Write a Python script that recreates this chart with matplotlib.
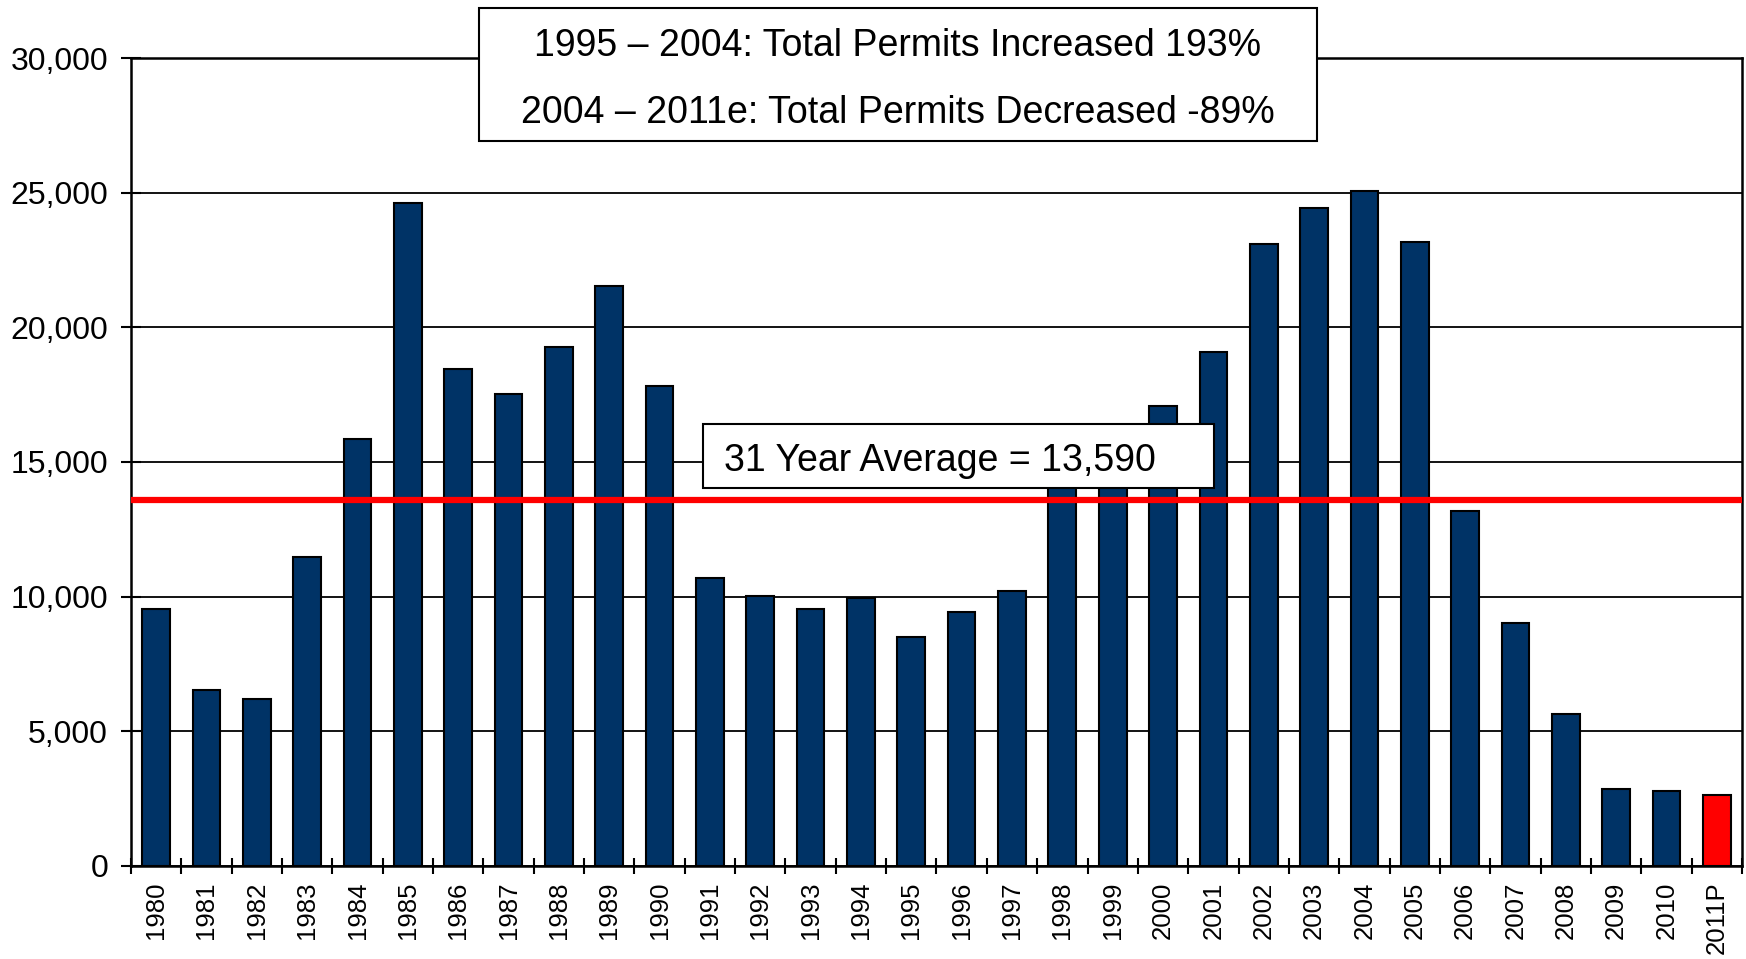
import matplotlib.pyplot as plt
from matplotlib.patches import Rectangle
from matplotlib.ticker import FuncFormatter, FixedLocator

years = ["1980", "1981", "1982", "1983", "1984", "1985", "1986", "1987", "1988",
         "1989", "1990", "1991", "1992", "1993", "1994", "1995", "1996", "1997",
         "1998", "1999", "2000", "2001", "2002", "2003", "2004", "2005", "2006",
         "2007", "2008", "2009", "2010", "2011P"]
permits = [9550, 6530, 6200, 11490, 15870, 24630, 18470, 17520, 19260,
           21530, 17810, 10700, 10040, 9550, 9960, 8510, 9420, 10210,
           14900, 15600, 17070, 19090, 23100, 24420, 25080, 23180, 13180,
           9010, 5660, 2850, 2770, 2640]
average = 13590
notes = ["1995 \u2013 2004: Total Permits Increased 193%",
         "2004 \u2013 2011e: Total Permits Decreased -89%"]
avg_label = "31 Year Average = 13,590"

navy = "#003366"
red = "#ff0000"

plt.rcParams["font.family"] = ["Liberation Sans", "DejaVu Sans"]

fig = plt.figure(figsize=(17.46, 9.59), dpi=100)
ax = fig.add_axes([0.075, 0.097, 0.9227, 0.8425])

x = list(range(len(years)))
colors = [navy] * (len(years) - 1) + [red]
ax.bar(x, permits, width=0.55, color=colors, edgecolor="black", linewidth=1.5, zorder=3)
ax.axhline(average, color=red, linewidth=4.5, zorder=4)

ax.set_xlim(-0.5, len(years) - 0.5)
ax.set_ylim(0, 30000)
ax.set_yticks(range(0, 30001, 5000))
ax.yaxis.set_major_formatter(FuncFormatter(lambda v, p: f"{int(v):,}"))
ax.grid(axis="y", color="black", linewidth=1.3, zorder=0)

ax.set_xticks(x)
ax.set_xticklabels(years, rotation=90, fontsize=18.5)
ax.xaxis.set_minor_locator(FixedLocator([i - 0.5 for i in range(len(years) + 1)]))
ax.tick_params(axis="x", which="major", length=0, pad=11)
ax.tick_params(axis="x", which="minor", direction="inout", length=12, width=1.5)
ax.tick_params(axis="y", direction="inout", length=15, width=1.5, labelsize=23, pad=9)

for s in ["left", "bottom", "right", "top"]:
    ax.spines[s].set_linewidth(1.8)

# top notes box
fig.patches.append(Rectangle((0.2743, 0.853), 0.480, 0.1387, transform=fig.transFigure,
                             facecolor="white", edgecolor="black", linewidth=1.5, zorder=5))
fig.text(0.514, 0.952, notes[0], ha="center", va="center", fontsize=27, zorder=6)
fig.text(0.514, 0.882, notes[1], ha="center", va="center", fontsize=27, zorder=6)

# average label box
fig.patches.append(Rectangle((0.4026, 0.4911), 0.2927, 0.0667, transform=fig.transFigure,
                             facecolor="white", edgecolor="black", linewidth=1.5, zorder=5))
fig.text(0.4147, 0.5195, avg_label, ha="left", va="center", fontsize=27, zorder=6)

fig.savefig("out.png", dpi=100)
